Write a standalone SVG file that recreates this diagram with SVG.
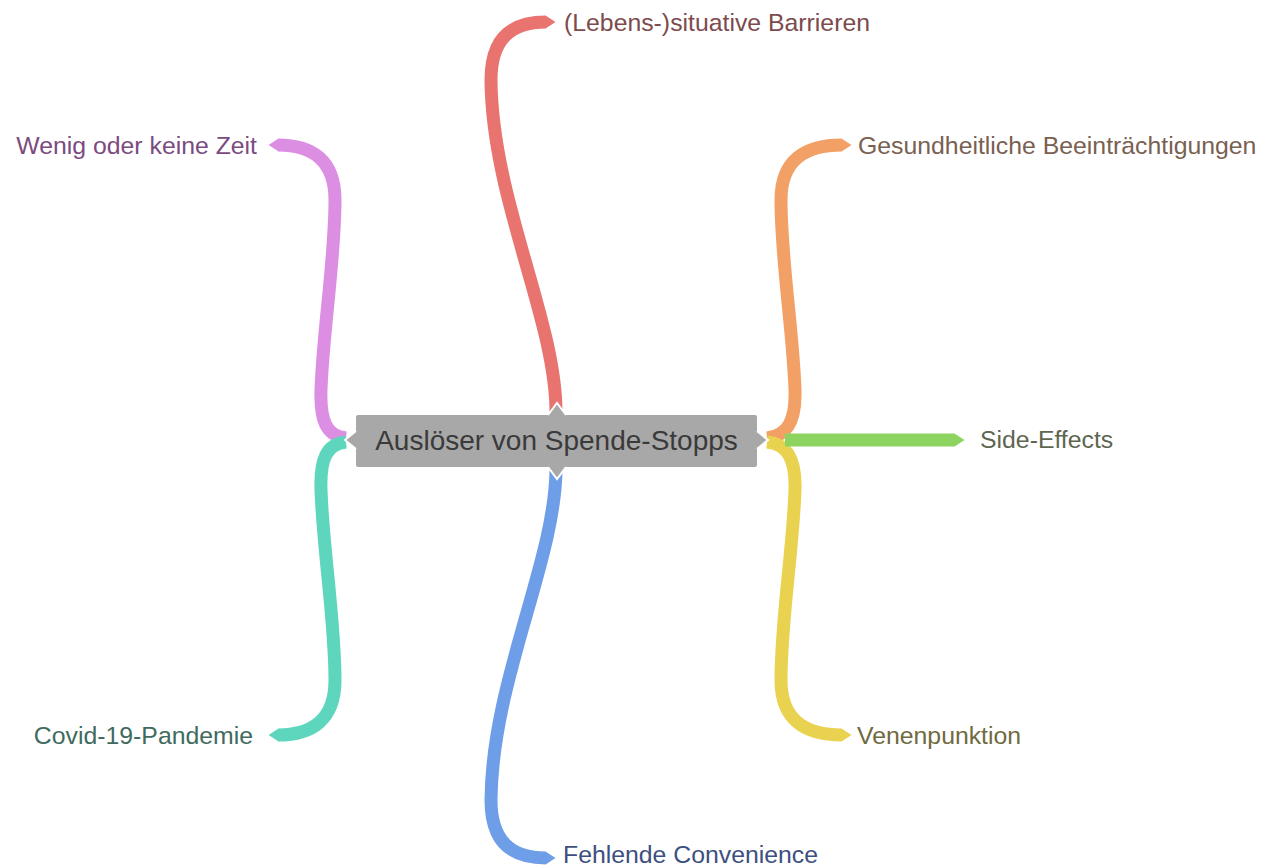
<svg xmlns="http://www.w3.org/2000/svg" width="1266" height="866" viewBox="0 0 1266 866">
<style>
.br{fill:none;stroke-width:13;stroke-linecap:butt}
.lbl{font-family:"Liberation Sans",Arial,sans-serif;font-size:24.8px}
.ctr{font-family:"Liberation Sans",Arial,sans-serif;font-size:28px;fill:#3a3a3a}
.tri{fill:#a8a8a8;stroke:#ffffff;stroke-width:2;stroke-linejoin:miter}
</style>
<defs>
<marker id="tR" markerUnits="userSpaceOnUse" markerWidth="10" markerHeight="13" viewBox="0 0 10 13" refX="0.5" refY="6.5" orient="auto" preserveAspectRatio="none"><path d="M0,0 L10,6.5 L0,13 z" fill="#e8736f"/></marker>
<marker id="tP" markerUnits="userSpaceOnUse" markerWidth="10" markerHeight="13" viewBox="0 0 10 13" refX="0.5" refY="6.5" orient="auto" preserveAspectRatio="none"><path d="M0,0 L10,6.5 L0,13 z" fill="#dc8ee3"/></marker>
<marker id="tT" markerUnits="userSpaceOnUse" markerWidth="10" markerHeight="13" viewBox="0 0 10 13" refX="0.5" refY="6.5" orient="auto" preserveAspectRatio="none"><path d="M0,0 L10,6.5 L0,13 z" fill="#5ed6bd"/></marker>
<marker id="tB" markerUnits="userSpaceOnUse" markerWidth="10" markerHeight="13" viewBox="0 0 10 13" refX="0.5" refY="6.5" orient="auto" preserveAspectRatio="none"><path d="M0,0 L10,6.5 L0,13 z" fill="#6f9ee8"/></marker>
<marker id="tO" markerUnits="userSpaceOnUse" markerWidth="10" markerHeight="13" viewBox="0 0 10 13" refX="0.5" refY="6.5" orient="auto" preserveAspectRatio="none"><path d="M0,0 L10,6.5 L0,13 z" fill="#f2a065"/></marker>
<marker id="tG" markerUnits="userSpaceOnUse" markerWidth="10" markerHeight="13" viewBox="0 0 10 13" refX="0.5" refY="6.5" orient="auto" preserveAspectRatio="none"><path d="M0,0 L10,6.5 L0,13 z" fill="#8dd35f"/></marker>
<marker id="tY" markerUnits="userSpaceOnUse" markerWidth="10" markerHeight="13" viewBox="0 0 10 13" refX="0.5" refY="6.5" orient="auto" preserveAspectRatio="none"><path d="M0,0 L10,6.5 L0,13 z" fill="#e9d24f"/></marker>
</defs>
<rect width="1266" height="866" fill="#ffffff"/>
<g id="connectors">
<path class="br" stroke="#e8736f" marker-end="url(#tR)" d="M556,412 C556,320 492,200 491,80 C491,40 510,22 546,22"/>
<path class="br" stroke="#6f9ee8" marker-end="url(#tB)" d="M556,468 C556,560 492,680 491,800 C491,840 510,858 546,858"/>
<path class="br" stroke="#dc8ee3" marker-end="url(#tP)" d="M346,438 C326,436 320,420 321,390 C323,330 335,260 335,200 C335,160 312,145 278,145"/>
<path class="br" stroke="#5ed6bd" marker-end="url(#tT)" d="M346,442 C326,444 320,460 321,490 C323,550 335,620 335,680 C335,720 312,735 278,735"/>
<path class="br" stroke="#f2a065" marker-end="url(#tO)" d="M767,438 C788,436 796,420 795,390 C793,330 781,260 781,200 C781,160 805,145 842,145"/>
<path class="br" stroke="#e9d24f" marker-end="url(#tY)" d="M767,442 C788,444 796,460 795,490 C793,550 781,620 781,680 C781,720 805,735 842,735"/>
<path class="br" stroke="#8dd35f" marker-end="url(#tG)" d="M785,440 L955,440"/>
</g>
<g id="center">
<rect x="356" y="415" width="401" height="52" rx="2" fill="#a8a8a8"/>
<path class="tri" d="M548,415 L557,403 L566,415"/>
<path class="tri" d="M548,467 L557,479 L566,467"/>
<path class="tri" d="M356,431 L345,440 L356,449"/>
<path class="tri" d="M757,431 L768,440 L757,449"/>
<text class="ctr" x="556.5" y="450" text-anchor="middle">Auslöser von Spende-Stopps</text>
</g>
<g id="n-barrieren"><text class="lbl" x="564" y="31" fill="#7d4a4d">(Lebens-)situative Barrieren</text></g>
<g id="n-zeit"><text class="lbl" x="257" y="154" text-anchor="end" fill="#7b4b80">Wenig oder keine Zeit</text></g>
<g id="n-covid"><text class="lbl" x="253" y="744" text-anchor="end" fill="#3f6a60">Covid-19-Pandemie</text></g>
<g id="n-convenience"><text class="lbl" x="563" y="863" fill="#3d5080">Fehlende Convenience</text></g>
<g id="n-gesundheit"><text class="lbl" x="858" y="154" fill="#7a6050">Gesundheitliche Beeinträchtigungen</text></g>
<g id="n-side"><text class="lbl" x="980" y="448" fill="#5d6650">Side-Effects</text></g>
<g id="n-venen"><text class="lbl" x="857" y="744" fill="#6f6a40">Venenpunktion</text></g>
</svg>
